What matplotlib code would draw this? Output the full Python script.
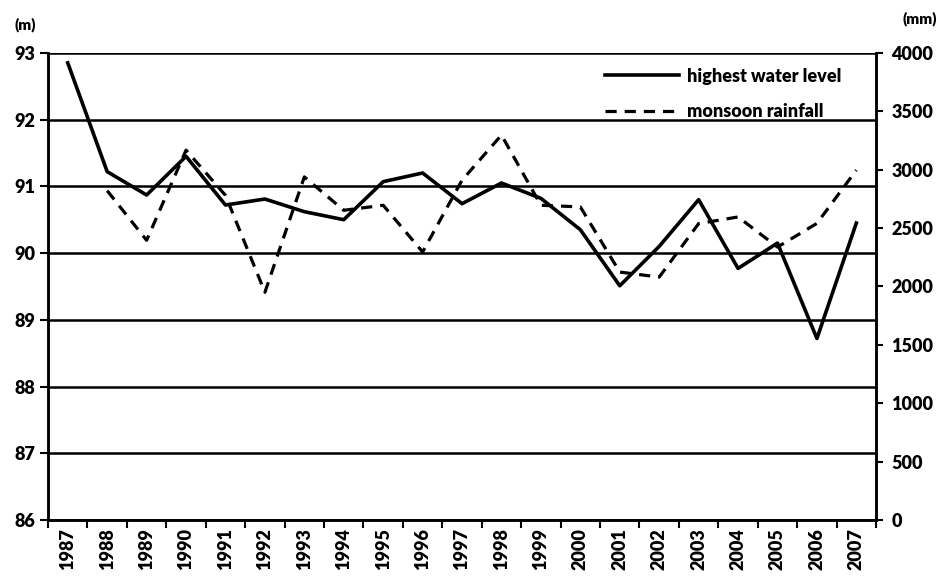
import matplotlib.pyplot as plt
import numpy as np

plt.rcParams['font.family'] = ['Lato', 'DejaVu Sans']
plt.rcParams['font.weight'] = 'bold'

years = [str(y) for y in range(1987, 2008)]
water_level = [92.85, 91.22, 90.87, 91.45, 90.72, 90.81, 90.62, 90.50, 91.07, 91.20,
               90.74, 91.05, 90.82, 90.35, 89.51, 90.10, 90.80, 89.77, 90.15, 88.72, 90.45]
rain_years = years[1:]
rainfall = [2820, 2395, 3167, 2780, 1950, 2938, 2652, 2695, 2295, 2910,
            3296, 2695, 2681, 2123, 2080, 2538, 2595, 2337, 2540, 2996]

fig = plt.figure(figsize=(9.42, 5.81), dpi=100)
ax = fig.add_axes([0.051, 0.105, 0.879, 0.804])
ax2 = ax.twinx()

x = np.arange(len(years))
xr = x[1:]

ax.set_xlim(-0.5, len(years) - 0.5)
ax.set_ylim(86, 93)
ax.set_yticks(range(86, 94))
ax.grid(axis='y', color='black', linewidth=1.8)
ax.set_axisbelow(True)

l1, = ax.plot(x, water_level, color='black', linewidth=2.6, label='highest water level')
l2, = ax2.plot(xr, rainfall, color='black', linewidth=2.3, linestyle=(0, (3.5, 2.5)),
               label='monsoon rainfall')

ax2.set_ylim(0, 4000)
ax2.set_yticks(range(0, 4001, 500))

ax.set_xticks(x)
ax.set_xticklabels(years, rotation=90, fontsize=13, fontweight='heavy')
ax.set_xticks(np.arange(-0.5, len(years)), minor=True)
ax.tick_params(axis='x', which='major', length=0, pad=6)
ax.tick_params(axis='x', which='minor', length=6, width=1.5, direction='out')
ax.tick_params(axis='y', length=6, width=1.5, labelsize=13, direction='out', pad=3)
ax2.tick_params(axis='y', length=5, width=1.5, labelsize=13, direction='out', pad=6)

for a in (ax, ax2):
    a.spines['top'].set_visible(False)
    for s in ('left', 'right', 'bottom'):
        a.spines[s].set_linewidth(1.8)
    for lab in a.get_yticklabels():
        lab.set_fontweight('heavy')

fig.text(0.015, 0.957, '(m)', fontsize=11, fontweight='heavy', ha='left', va='center')
fig.text(0.958, 0.968, '(mm)', fontsize=11, fontweight='heavy', ha='left', va='center')

leg = ax.legend(handles=[l1, l2], loc='upper left', bbox_to_anchor=(0.673, 0.968),
                frameon=False, fontsize=13, handlelength=4.1, handletextpad=0.4,
                labelspacing=1.0, borderpad=0, borderaxespad=0)
for t in leg.get_texts():
    t.set_fontweight('heavy')

fig.savefig('out.png', dpi=100)
